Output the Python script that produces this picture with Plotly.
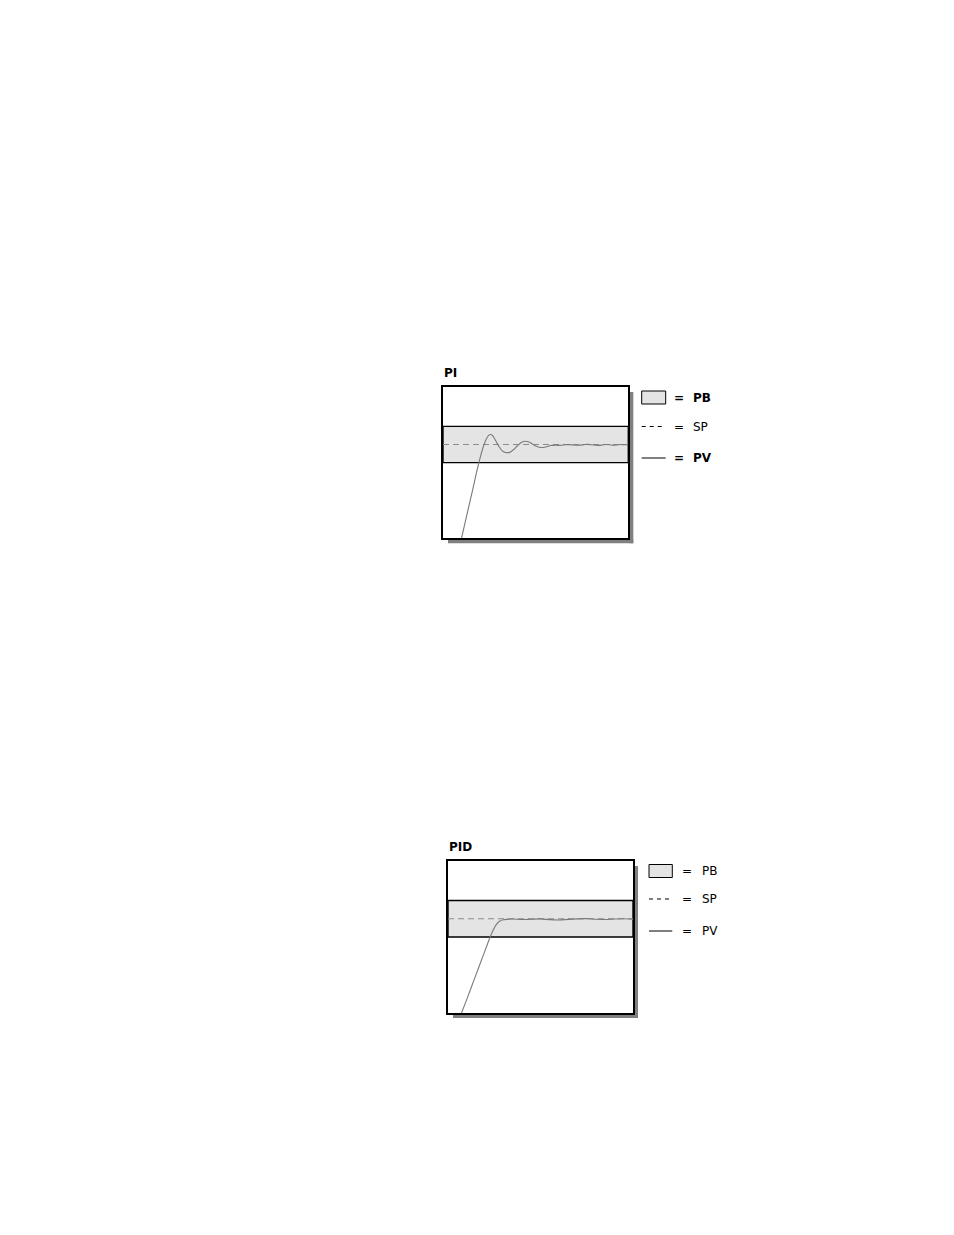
import plotly.graph_objects as go

W, H = 954, 1235

# axis scale: time 0..100 across the box, value 0..100 bottom to top
PB_LOW, PB_HIGH = 50, 74
SP_VALUE = 62
SP_X = [0, 100]

pi_x = [10, 12, 14, 16, 18, 20, 22, 23.5, 25, 26.5, 28, 30, 32, 34, 36, 38, 40, 42, 44, 46,
        48, 50, 52, 54, 56, 58, 60, 62, 64, 66, 68, 70, 72, 74, 76, 78, 80, 82, 84, 86,
        88, 90, 92, 94, 96, 98, 100]
pi_y = [0, 10.8, 21.5, 32, 43, 53, 61.5, 66, 68.5, 68.3, 65.5, 61, 57.8, 56.6, 56.8, 58.5, 61, 63.2, 64.1, 63.8,
        62.5, 61, 60.2, 60, 60.5, 61.3, 61.6, 61.4, 61.5, 61.8, 61.9, 61.7, 61.5, 61.6, 61.9, 62.1, 61.8, 61.6, 61.4, 61.7,
        62.0, 61.8, 61.5, 61.7, 62.0, 61.8, 61.9]

pid_x = [7.3, 10, 12, 14, 16, 18, 20, 22, 24, 26, 28, 30, 32, 35, 40, 45, 50, 55, 60, 65,
         70, 75, 80, 85, 90, 95, 100]
pid_y = [0, 8.5, 15, 21.5, 28, 34.5, 41, 47.5, 53.5, 58, 60.5, 61.3, 61.6, 61.8, 61.5, 61.7, 61.9, 61.4, 61.2, 61.6,
         61.9, 62.1, 61.7, 61.5, 61.8, 62.0, 61.7]

legend_labels = ["PB", "SP", "PV"]

# box geometry in pixels: left, right, top, bottom
PI_BOX = (443, 628.3, 387, 538.3)
PID_BOX = (448, 633, 861, 1013)


def px(x):
    return x / W


def py(y):
    return 1 - y / H


fig = go.Figure()
shapes = []
annotations = []


def add_panel(idx, box, title, xs, ys, leg_x, leg_rows, bold_rows):
    left, right, top, bottom = box
    xa = "xaxis" if idx == 1 else f"xaxis{idx}"
    ya = "yaxis" if idx == 1 else f"yaxis{idx}"
    xr = "x" if idx == 1 else f"x{idx}"
    yr = "y" if idx == 1 else f"y{idx}"
    axis_style = dict(showgrid=False, zeroline=False, showticklabels=False, ticks="",
                      showline=True, linecolor="black", linewidth=2, mirror=True,
                      range=[0, 100], fixedrange=True)
    fig.update_layout({
        xa: dict(domain=[px(left), px(right)], anchor=yr, **axis_style),
        ya: dict(domain=[py(bottom), py(top)], anchor=xr, **axis_style),
    })

    # drop shadow
    shapes.append(dict(type="rect", xref="paper", yref="paper",
                       x0=px(right + 1), x1=px(right + 5), y0=py(bottom + 5), y1=py(top + 5),
                       fillcolor="#808080", line=dict(width=0), layer="below"))
    shapes.append(dict(type="rect", xref="paper", yref="paper",
                       x0=px(left + 5), x1=px(right + 5), y0=py(bottom + 5), y1=py(bottom + 1),
                       fillcolor="#808080", line=dict(width=0), layer="below"))
    # proportional band
    shapes.append(dict(type="rect", xref=xr, yref=yr, x0=0, x1=100, y0=PB_LOW, y1=PB_HIGH,
                       fillcolor="#e4e4e4", line=dict(color="black", width=1.4), layer="below"))

    fig.add_trace(go.Scatter(x=SP_X, y=[SP_VALUE] * 2, mode="lines", xaxis=xr, yaxis=yr,
                             line=dict(color="#8c8c8c", width=1, dash="6px,4px"),
                             showlegend=False, hoverinfo="skip"))
    fig.add_trace(go.Scatter(x=xs, y=ys, mode="lines", xaxis=xr, yaxis=yr,
                             line=dict(color="#7a7a7a", width=1.1, shape="spline", smoothing=0.8),
                             showlegend=False, hoverinfo="skip"))

    annotations.append(dict(xref="paper", yref="paper", x=px(left - 1), y=py(top - 5),
                            xanchor="left", yanchor="bottom", showarrow=False,
                            text=f"<b>{title}</b>",
                            font=dict(family="DejaVu Sans", size=12, color="black")))

    # hand-made legend
    lx0, lx1, eq_x, lab_x = leg_x
    y_pb, y_sp, y_pv = leg_rows
    shapes.append(dict(type="rect", xref="paper", yref="paper",
                       x0=px(lx0), x1=px(lx1), y0=py(y_pb + 6.5), y1=py(y_pb - 6.5),
                       fillcolor="#e4e4e4", line=dict(color="black", width=1)))
    shapes.append(dict(type="line", xref="paper", yref="paper",
                       x0=px(lx0), x1=px(lx1), y0=py(y_sp), y1=py(y_sp),
                       line=dict(color="black", width=1, dash="4px,4px")))
    shapes.append(dict(type="line", xref="paper", yref="paper",
                       x0=px(lx0), x1=px(lx1), y0=py(y_pv), y1=py(y_pv),
                       line=dict(color="black", width=1)))
    for label, yy, bold in zip(legend_labels, leg_rows, bold_rows):
        eq = "<b>=</b>" if bold else "="
        txt = f"<b>{label}</b>" if bold else label
        annotations.append(dict(xref="paper", yref="paper", x=px(eq_x), y=py(yy),
                                xanchor="center", yanchor="middle", showarrow=False, text=eq,
                                font=dict(family="DejaVu Sans", size=12, color="black")))
        annotations.append(dict(xref="paper", yref="paper", x=px(lab_x), y=py(yy),
                                xanchor="left", yanchor="middle", showarrow=False, text=txt,
                                font=dict(family="DejaVu Sans", size=12, color="black")))


add_panel(1, PI_BOX, "PI", pi_x, pi_y, (641.7, 665.7, 679, 691), (397.5, 426.5, 458), (True, False, True))
add_panel(2, PID_BOX, "PID", pid_x, pid_y, (649, 672.3, 687, 700), (871, 899, 931), (False, False, False))

fig.update_layout(
    width=W, height=H,
    margin=dict(l=0, r=0, t=0, b=0),
    paper_bgcolor="white",
    plot_bgcolor="white",
    showlegend=False,
    shapes=shapes,
    annotations=annotations,
)

# the page's default body margin would shift the figure by 8px
fig.write_html("out.html", config={"displayModeBar": False},
               post_script="document.body.style.margin='0';")
